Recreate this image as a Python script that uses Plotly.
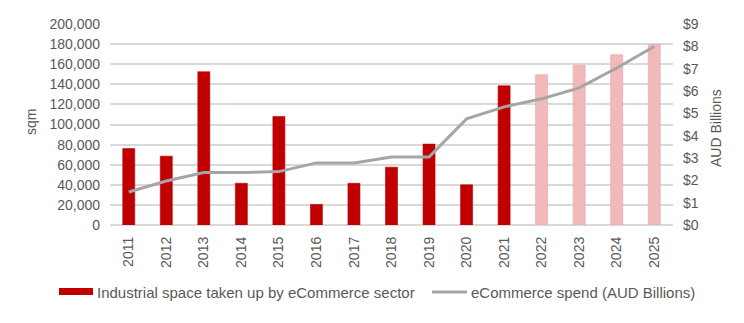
import plotly.graph_objects as go

years = [str(y) for y in range(2011, 2026)]
space_sqm = [76000, 68500, 152500, 41500, 108000, 20500, 41500, 57500, 80500, 40000,
             138500, 149500, 159000, 169500, 179500]
spend_aud = [1.48, 1.97, 2.35, 2.35, 2.39, 2.78, 2.78, 3.04, 3.04, 4.75,
             5.29, 5.65, 6.14, 7.03, 7.99]
forecast_from = "2022"
bar_name = "Industrial space taken up by eCommerce sector"
line_name = "eCommerce spend (AUD Billions)"

red = "#c00000"
pink = "#f2b9bb"
line_grey = "#a5a5a5"
bar_colors = [red if y < forecast_from else pink for y in years]
bar_lines = [red if y < forecast_from else "#eba1a4" for y in years]

font = "Liberation Sans, Arial, sans-serif"
grey = "#595959"

W, H = 744, 323
L, R, T, B = 110, 71, 24, 98

fig = go.Figure()
fig.add_trace(go.Bar(
    x=years, y=space_sqm, name=bar_name,
    marker=dict(color=bar_colors, line=dict(color=bar_lines, width=0.6)),
    width=0.32, yaxis="y", showlegend=False,
))
fig.add_trace(go.Scatter(
    x=years, y=spend_aud, name=line_name,
    mode="lines", line=dict(color=line_grey, width=3), yaxis="y2", showlegend=False,
))

# custom legend (container pixel coords converted to paper fractions)
def px(xp):
    return (xp - L) / (W - L - R)

def py(yp):
    return (H - B - yp) / (H - T - B)

shapes = [
    dict(type="rect", xref="paper", yref="paper", x0=px(59), x1=px(93), y0=py(295), y1=py(288),
         fillcolor=red, line=dict(width=0)),
    dict(type="line", xref="paper", yref="paper", x0=px(432), x1=px(467), y0=py(292), y1=py(292),
         line=dict(color=line_grey, width=3)),
]
annotations = [
    dict(text=bar_name, xref="paper", yref="paper", x=px(95), y=py(292), xanchor="left",
         yanchor="middle", showarrow=False, font=dict(size=15, color=grey, family=font)),
    dict(text=line_name, xref="paper", yref="paper", x=px(469), y=py(292), xanchor="left",
         yanchor="middle", showarrow=False, font=dict(size=15, color=grey, family=font)),
    dict(text="sqm", xref="paper", yref="paper", x=px(31), y=py(122), xanchor="center",
         yanchor="middle", textangle=-90, showarrow=False, font=dict(size=14, color=grey, family=font)),
    dict(text="AUD Billions", xref="paper", yref="paper", x=px(716), y=py(128), xanchor="center",
         yanchor="middle", textangle=-90, showarrow=False, font=dict(size=14, color=grey, family=font)),
]

fig.update_layout(
    width=W, height=H,
    margin=dict(l=L, r=R, t=T, b=B, autoexpand=False),
    paper_bgcolor="white", plot_bgcolor="white",
    font=dict(family=font, size=14, color=grey),
    showlegend=False,
    shapes=shapes, annotations=annotations,
    xaxis=dict(tickangle=-90, showgrid=False, showline=False, ticks="", automargin=False,
               ticklabelstandoff=8, tickfont=dict(size=14, color=grey)),
    yaxis=dict(range=[0, 200000], dtick=20000, tickformat=",", showgrid=True, automargin=False,
               gridcolor="#d9d9d9", gridwidth=1.5, zeroline=True, zerolinecolor="#d9d9d9",
               zerolinewidth=1.5, ticklabelstandoff=9,
               tickfont=dict(size=14, color=grey)),
    yaxis2=dict(range=[0, 9], dtick=1, tickprefix="$", overlaying="y", side="right",
                showgrid=False, zeroline=False, automargin=False, ticklabelstandoff=9,
                tickfont=dict(size=14, color=grey)),
)

fig.write_html("out.html")
